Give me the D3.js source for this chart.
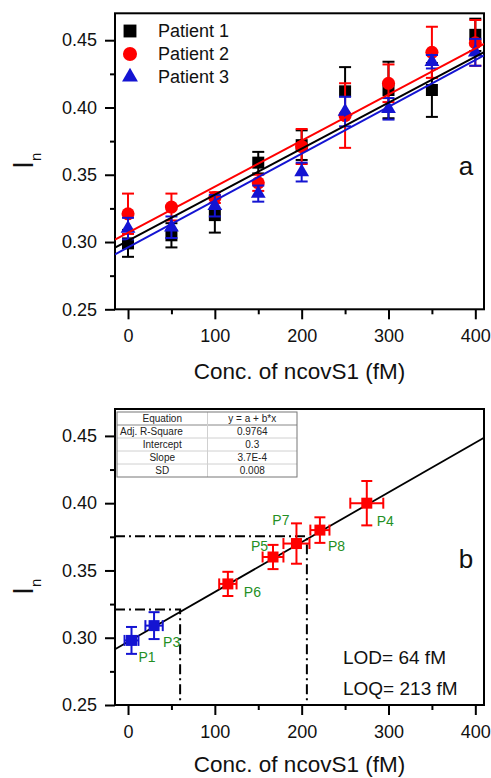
<!DOCTYPE html>
<html>
<head>
<meta charset="utf-8">
<script src="https://cdn.jsdelivr.net/npm/d3@7"></script>
<style>
  body { margin: 0; background: #fff; }
  svg { display: block; font-family: Arial, "Liberation Sans", sans-serif; }
</style>
</head>
<body>
<div id="chart"></div>
<script>
// --- Data: panel a ---
const conc = [0, 50, 100, 150, 200, 250, 300, 350, 400];
const patientNames = ["Patient 1", "Patient 2", "Patient 3"];
const patient1 = [0.299, 0.305, 0.320, 0.359, 0.372, 0.412, 0.413, 0.413, 0.454];
const patient1Err = [0.010, 0.009, 0.013, 0.008, 0.011, 0.018, 0.021, 0.020, 0.012];
const patient2 = [0.321, 0.326, 0.333, 0.344, 0.371, 0.394, 0.418, 0.441, 0.448];
const patient2Err = [0.015, 0.010, 0.004, 0.006, 0.013, 0.024, 0.014, 0.019, 0.017];
const patient3 = [0.310, 0.311, 0.327, 0.336, 0.352, 0.397, 0.399, 0.434, 0.441];
const patient3Err = [0.008, 0.008, 0.008, 0.006, 0.007, 0.011, 0.008, 0.005, 0.010];
// linear fits (a + b*x)
const fitIntercept = [0.301, 0.307, 0.296];
const fitSlope = [3.42e-4, 3.42e-4, 3.48e-4];

// --- Data: panel b ---
const sampleLabels = ["P1", "P3", "P6", "P5", "P7", "P8", "P4"];
const sampleConc = [4, 30, 115, 167, 194, 221, 275];
const sampleConcErr = [8, 10, 10, 12, 15, 11, 19];
const sampleIn = [0.298, 0.309, 0.340, 0.360, 0.370, 0.380, 0.400];
const sampleInErr = [0.010, 0.010, 0.009, 0.009, 0.015, 0.0095, 0.0165];
const lowSamples = ["P1", "P3"];
const calibIntercept = 0.297;
const calibSlope = 3.7e-4;
const lodPoint = { x: 60, y: 0.321 };
const loqPoint = { x: 206, y: 0.3755 };
const tableRows = [
  ["Equation", "y = a + b*x"],
  ["Adj. R-Square", "0.9764"],
  ["Intercept", "0.3"],
  ["Slope", "3.7E-4"],
  ["SD", "0.008"]
];
const limitTexts = ["LOD= 64 fM", "LOQ= 213 fM"];

// --- Ticks ---
const xTicks = [0, 100, 200, 300, 400];
const xMinor = [50, 150, 250, 350];
const yTicks = [0.25, 0.30, 0.35, 0.40, 0.45];
const yMinor = [0.275, 0.325, 0.375, 0.425];

// --- SVG Setup ---
const width = 491, height = 778;
const svg = d3.select("#chart").append("svg")
  .attr("width", width).attr("height", height);

const x = d3.scaleLinear().domain([-15, 410]).range([115, 484]);
const yTop = d3.scaleLinear().domain([0.25, 0.47]).range([309.3, 13.3]);
const yBot = d3.scaleLinear().domain([0.25, 0.47]).range([705, 409]);

const colors = { "Patient 1": "#000000", "Patient 2": "#ff0000", "Patient 3": "#1414d2" };
const symbols = { "Patient 1": d3.symbolSquare, "Patient 2": d3.symbolCircle, "Patient 3": d3.symbolTriangle };
const symSize = { "Patient 1": 144, "Patient 2": 135, "Patient 3": 95 };

function drawFrame(y, clipId, letter, letterY, labelY, titleY) {
  const g = svg.append("g");
  svg.append("clipPath").attr("id", clipId).append("rect")
    .attr("x", x.range()[0]).attr("y", y.range()[1])
    .attr("width", x.range()[1] - x.range()[0])
    .attr("height", y.range()[0] - y.range()[1]);

  // minor ticks
  g.append("g").attr("transform", `translate(0,${y.range()[0]})`)
    .call(d3.axisBottom(x).tickValues(xMinor).tickSize(5).tickFormat(""))
    .call(a => a.select(".domain").remove())
    .selectAll("line").attr("stroke-width", 2);
  g.append("g").attr("transform", `translate(${x.range()[0]},0)`)
    .call(d3.axisLeft(y).tickValues(yMinor).tickSize(5).tickFormat(""))
    .call(a => a.select(".domain").remove())
    .selectAll("line").attr("stroke-width", 2);

  // major ticks
  const xa = g.append("g").attr("transform", `translate(0,${y.range()[0]})`)
    .call(d3.axisBottom(x).tickValues(xTicks).tickSize(10).tickPadding(10).tickFormat(d3.format("d")))
    .call(a => a.select(".domain").remove());
  xa.selectAll("line").attr("stroke-width", 2);
  xa.selectAll("text").attr("font-size", 18).attr("font-family", null).attr("fill", "#111");

  const ya = g.append("g").attr("transform", `translate(${x.range()[0]},0)`)
    .call(d3.axisLeft(y).tickValues(yTicks).tickSize(10).tickPadding(8).tickFormat(d3.format(".2f")))
    .call(a => a.select(".domain").remove());
  ya.selectAll("line").attr("stroke-width", 2);
  ya.selectAll("text").attr("font-size", 18).attr("font-family", null).attr("fill", "#111");

  // frame
  g.append("rect")
    .attr("x", x.range()[0]).attr("y", y.range()[1])
    .attr("width", x.range()[1] - x.range()[0])
    .attr("height", y.range()[0] - y.range()[1])
    .attr("fill", "none").attr("stroke", "#000").attr("stroke-width", 2);

  // axis title
  svg.append("text")
    .attr("x", (x.range()[0] + x.range()[1]) / 2)
    .attr("y", titleY)
    .attr("text-anchor", "middle")
    .attr("font-size", 22.5).attr("fill", "#111")
    .text("Conc. of ncovS1 (fM)");

  // y label I_n
  const yl = svg.append("text")
    .attr("transform", `translate(33,${labelY}) rotate(-90)`)
    .attr("font-size", 29).attr("fill", "#111");
  yl.append("tspan").text("I");
  yl.append("tspan").attr("font-size", 15).attr("dy", 8).text("n");

  // panel letter
  svg.append("text")
    .attr("x", 466).attr("y", letterY)
    .attr("text-anchor", "middle")
    .attr("font-size", 26).attr("fill", "#111")
    .text(letter);
}

function errorBarY(g, cx, y0, y1, color, cap) {
  g.append("line").attr("x1", cx).attr("x2", cx).attr("y1", y0).attr("y2", y1)
    .attr("stroke", color).attr("stroke-width", 2);
  [y0, y1].forEach(v => g.append("line")
    .attr("x1", cx - cap / 2).attr("x2", cx + cap / 2).attr("y1", v).attr("y2", v)
    .attr("stroke", color).attr("stroke-width", 2));
}
function errorBarX(g, cy, x0, x1, color, cap) {
  g.append("line").attr("x1", x0).attr("x2", x1).attr("y1", cy).attr("y2", cy)
    .attr("stroke", color).attr("stroke-width", 2);
  [x0, x1].forEach(v => g.append("line")
    .attr("y1", cy - cap / 2).attr("y2", cy + cap / 2).attr("x1", v).attr("x2", v)
    .attr("stroke", color).attr("stroke-width", 2));
}

// =========== Panel a ===========
drawFrame(yTop, "clip-a", "a", 175, 169, 379);

const seriesA = [
  { name: patientNames[0], values: patient1, err: patient1Err },
  { name: patientNames[1], values: patient2, err: patient2Err },
  { name: patientNames[2], values: patient3, err: patient3Err }
];

const plotA = svg.append("g");
seriesA.forEach(s => {
  const g = plotA.append("g");
  conc.forEach((c, i) => {
    errorBarY(g, x(c), yTop(s.values[i] - s.err[i]), yTop(s.values[i] + s.err[i]), colors[s.name], 12);
  });
  g.selectAll("path").data(conc).enter().append("path")
    .attr("d", d3.symbol().type(symbols[s.name]).size(symSize[s.name]))
    .attr("transform", (c, i) => `translate(${x(c)},${yTop(s.values[i])})`)
    .attr("fill", colors[s.name]);
});

// fit lines
const fitG = svg.append("g").attr("clip-path", "url(#clip-a)");
patientNames.forEach((n, i) => {
  const xd = x.domain();
  fitG.append("line")
    .attr("x1", x(xd[0])).attr("y1", yTop(fitIntercept[i] + fitSlope[i] * xd[0]))
    .attr("x2", x(xd[1])).attr("y2", yTop(fitIntercept[i] + fitSlope[i] * xd[1]))
    .attr("stroke", colors[n]).attr("stroke-width", 2);
});

// legend
const legend = svg.append("g");
patientNames.forEach((n, i) => {
  const ly = 31 + i * 23;
  legend.append("path")
    .attr("d", d3.symbol().type(symbols[n]).size(symSize[n] * 1.15))
    .attr("transform", `translate(130,${ly})`)
    .attr("fill", colors[n]);
  legend.append("text")
    .attr("x", 158).attr("y", ly).attr("dy", "0.35em")
    .attr("font-size", 18).attr("fill", "#111")
    .text(n);
});

// =========== Panel b ===========
drawFrame(yBot, "clip-b", "b", 568, 595, 772);

const plotB = svg.append("g").attr("clip-path", "url(#clip-b)");
const xd = x.domain();
plotB.append("line")
  .attr("x1", x(xd[0])).attr("y1", yBot(calibIntercept + calibSlope * xd[0]))
  .attr("x2", x(xd[1])).attr("y2", yBot(calibIntercept + calibSlope * xd[1]))
  .attr("stroke", "#000").attr("stroke-width", 1.8);

// LOD / LOQ guides
[lodPoint, loqPoint].forEach(p => {
  plotB.append("path")
    .attr("d", `M${x(xd[0])},${yBot(p.y)}H${x(p.x)}V${yBot(0.25)}`)
    .attr("fill", "none").attr("stroke", "#000").attr("stroke-width", 2)
    .attr("stroke-dasharray", "10,4,2,4");
});

const sampleColor = l => lowSamples.includes(l) ? "#1414d2" : "#ff0000";
const labelPos = {
  P1: [7, 17, "start"], P3: [9, 16, "start"], P6: [16, 8, "start"],
  P5: [-5, -11, "end"], P7: [-7, -23, "end"], P8: [8, 16, "start"], P4: [10, 18, "start"]
};
sampleLabels.forEach((l, i) => {
  const g = svg.append("g");
  const cx = x(sampleConc[i]), cy = yBot(sampleIn[i]);
  const col = sampleColor(l);
  errorBarY(g, cx, yBot(sampleIn[i] - sampleInErr[i]), yBot(sampleIn[i] + sampleInErr[i]), col, 11);
  errorBarX(g, cy, x(sampleConc[i] - sampleConcErr[i]), x(sampleConc[i] + sampleConcErr[i]), col, 11);
  g.append("path")
    .attr("d", d3.symbol().type(d3.symbolSquare).size(121))
    .attr("transform", `translate(${cx},${cy})`)
    .attr("fill", col);
  const lp = labelPos[l];
  svg.append("text")
    .attr("x", cx + lp[0]).attr("y", cy + lp[1]).attr("dy", "0.35em")
    .attr("text-anchor", lp[2])
    .attr("font-size", 14).attr("fill", "#248f24")
    .text(l);
});

// LOD / LOQ text
limitTexts.forEach((t, i) => {
  svg.append("text")
    .attr("x", 343).attr("y", 657 + i * 31).attr("dy", "0.35em")
    .attr("font-size", 19).attr("fill", "#111")
    .text(t);
});

// stats table
const tbl = svg.append("g");
const tx = 117, ty = 412, tw = 180, rh = 13, c1 = 90.5;
tbl.append("rect").attr("x", tx).attr("y", ty).attr("width", tw).attr("height", rh * tableRows.length)
  .attr("fill", "#fff");
tableRows.forEach((r, i) => {
  if (i > 0) tbl.append("line").attr("x1", tx).attr("x2", tx + tw)
    .attr("y1", ty + i * rh).attr("y2", ty + i * rh)
    .attr("stroke", i === 1 ? "#888" : "#d0d0d0").attr("stroke-width", 1);
  tbl.append("text")
    .attr("x", i === 1 ? tx + 3 : tx + c1 / 2).attr("y", ty + i * rh + rh / 2).attr("dy", "0.35em")
    .attr("text-anchor", i === 1 ? "start" : "middle")
    .attr("font-size", 10).attr("fill", "#222").text(r[0]);
  tbl.append("text")
    .attr("x", tx + c1 + (tw - c1) / 2).attr("y", ty + i * rh + rh / 2).attr("dy", "0.35em")
    .attr("text-anchor", "middle")
    .attr("font-size", 10).attr("fill", "#222").text(r[1]);
});
tbl.append("line").attr("x1", tx + c1).attr("x2", tx + c1).attr("y1", ty).attr("y2", ty + rh * tableRows.length)
  .attr("stroke", "#d0d0d0");
tbl.append("rect").attr("x", tx).attr("y", ty).attr("width", tw).attr("height", rh * tableRows.length)
  .attr("fill", "none").attr("stroke", "#777").attr("stroke-width", 1);
</script>
</body>
</html>
